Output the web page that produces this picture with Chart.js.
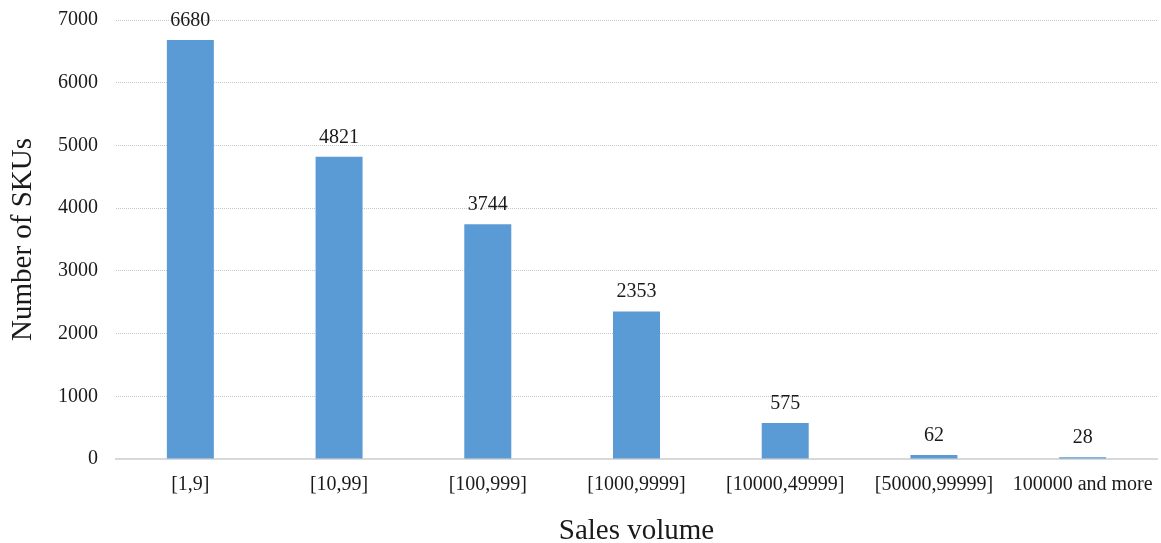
<!DOCTYPE html>
<html>
<head>
<meta charset="utf-8">
<script src="https://cdn.jsdelivr.net/npm/chart.js@4"></script>
<style>
  html, body { margin: 0; padding: 0; background: #fff; }
  canvas { display: block; }
</style>
</head>
<body>
<canvas id="chart" width="1161" height="543"></canvas>
<script>
// data
const categories = ["[1,9]", "[10,99]", "[100,999]", "[1000,9999]", "[10000,49999]", "[50000,99999]", "100000 and more"];
const skuCounts = [6680, 4821, 3744, 2353, 575, 62, 28];
const yTicks = [0, 1000, 2000, 3000, 4000, 5000, 6000, 7000];

const SERIF = "'Liberation Serif', 'Times New Roman', serif";
const TEXT = "#1a1a1a";
const BAR = "#5B9BD5";

Chart.defaults.font.family = SERIF;
Chart.defaults.color = TEXT;

// value labels above each bar
const barLabels = {
  id: "barLabels",
  afterDatasetsDraw(chart) {
    const ctx = chart.ctx;
    const meta = chart.getDatasetMeta(0);
    ctx.save();
    ctx.font = "20px " + SERIF;
    ctx.fillStyle = TEXT;
    ctx.textAlign = "center";
    ctx.textBaseline = "alphabetic";
    meta.data.forEach((bar, i) => {
      ctx.fillText(String(skuCounts[i]), bar.x, bar.y - 14);
    });
    ctx.restore();
  },
};

new Chart(document.getElementById("chart"), {
  type: "bar",
  data: {
    labels: categories,
    datasets: [{
      data: skuCounts,
      backgroundColor: BAR,
      categoryPercentage: 1,
      barPercentage: 0.316,
    }],
  },
  options: {
    responsive: false,
    animation: false,
    layout: { padding: { top: 20, right: 4, left: 0, bottom: 0 } },
    plugins: {
      legend: { display: false },
      tooltip: { enabled: false },
    },
    scales: {
      x: {
        afterFit: (s) => { s.height = 84; s.paddingLeft = 0; s.paddingRight = 0; },
        grid: { display: false, drawTicks: false },
        border: { display: true, color: "#d9d9d9", width: 2 },
        ticks: { font: { size: 20 }, color: TEXT, padding: 14, maxRotation: 0, autoSkip: false },
        title: {
          display: true,
          text: "Sales volume",
          font: { size: 29, lineHeight: "28px" },
          color: TEXT,
          padding: { top: 0, bottom: -2 },
        },
      },
      y: {
        min: 0,
        max: 7000,
        afterFit: (s) => { s.width = 116; s.paddingTop = 0; s.paddingBottom = 0; },
        afterBuildTicks: (s) => { s.ticks = yTicks.map((v) => ({ value: v })); },
        grid: { color: "#c8c8c8", lineWidth: 1, drawTicks: false },
        border: { display: false, dash: [1, 1] },
        ticks: { font: { size: 20 }, color: TEXT, padding: 18, callback: (v) => String(v) },
        title: {
          display: true,
          text: "Number of SKUs",
          font: { size: 29, lineHeight: "28px" },
          color: TEXT,
          padding: { top: 9, bottom: 0 },
        },
      },
    },
  },
  plugins: [barLabels],
});
</script>
</body>
</html>
